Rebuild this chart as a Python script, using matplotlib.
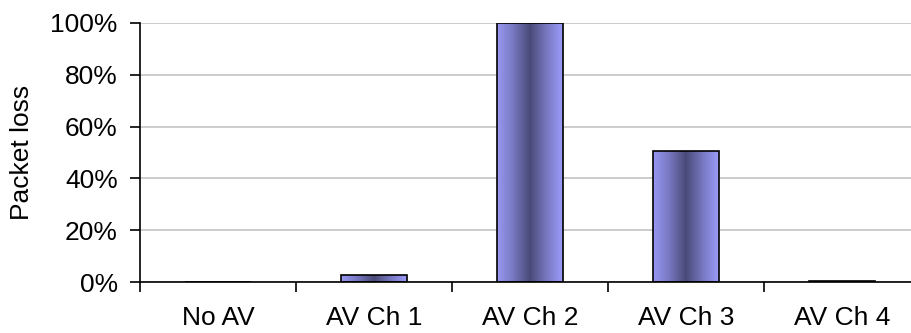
import matplotlib.pyplot as plt
import numpy as np
from matplotlib.colors import LinearSegmentedColormap
from matplotlib.ticker import FuncFormatter

plt.rcParams['font.family'] = ['Liberation Sans', 'DejaVu Sans']

categories = ["No AV", "AV Ch 1", "AV Ch 2", "AV Ch 3", "AV Ch 4"]
packet_loss = [0.0, 2.6, 100.0, 50.6, 0.5]

# horizontal light-dark-light shading used inside each bar
shade = LinearSegmentedColormap.from_list(
    "bar_shade", ["#9898F4", "#7777C0", "#4A4A78", "#7777C0", "#9C9CFA"])
ramp = np.linspace(0, 1, 256).reshape(1, -1)

fig = plt.figure(figsize=(9.11, 3.33), dpi=100)
ax = fig.add_axes([140 / 911, 51 / 333, 780 / 911, 259 / 333])

x = np.arange(len(categories))
bars = ax.bar(x, packet_loss, width=0.42, facecolor="none",
              edgecolor="black", linewidth=1.2, zorder=3)

for b in bars:
    if b.get_height() <= 0:
        continue
    x0, w, h = b.get_x(), b.get_width(), b.get_height()
    im = ax.imshow(ramp, cmap=shade, aspect="auto",
                   extent=[x0, x0 + w, 0, h], zorder=2)
    im.set_clip_path(b)

ax.set_xlim(-0.5, len(categories) - 0.5)
ax.set_ylim(0, 100)
ax.set_yticks(range(0, 101, 20))
ax.yaxis.set_major_formatter(FuncFormatter(lambda v, _: f"{v:.0f}%"))

# category boundaries get the tick marks, centres get the labels
ax.set_xticks(np.arange(-0.5, len(categories), 1.0))
ax.set_xticklabels([])
ax.set_xticks(x, minor=True)
ax.set_xticklabels(categories, minor=True)
ax.tick_params(axis="x", which="major", direction="out", length=7, width=1.2)
ax.tick_params(axis="x", which="minor", length=0, pad=17, labelsize=19)
ax.tick_params(axis="y", direction="out", length=7, width=1.2, pad=9,
               labelsize=19)

ax.grid(axis="y", color="#c4c4c4", linewidth=1.2, zorder=0)
ax.set_axisbelow(True)
for side in ("top", "right"):
    ax.spines[side].set_visible(False)
for side in ("left", "bottom"):
    ax.spines[side].set_linewidth(1.2)

ax.set_ylabel("Packet loss", fontsize=19)
ax.yaxis.set_label_coords(-106 / 780, 0.5)

fig.savefig("out.png", dpi=100)
